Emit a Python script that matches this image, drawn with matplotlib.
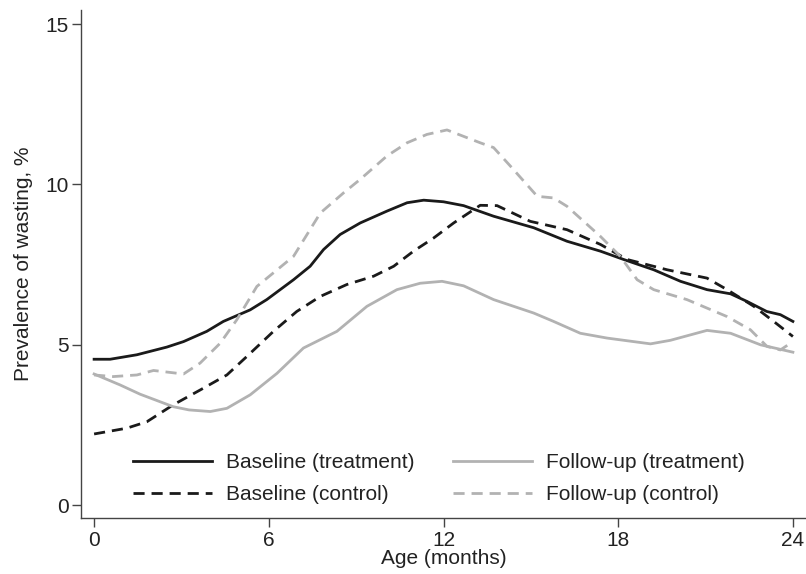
import matplotlib
matplotlib.use("Agg")
import matplotlib.pyplot as plt

plt.rcParams['font.family'] = ['Liberation Sans', 'DejaVu Sans']

# Baseline (treatment)
bt_age = [0, 0.55, 1.47, 2.5, 3.07, 3.87, 4.44, 5.36, 5.93, 6.85, 7.42, 7.88, 8.45, 9.14,
          10.06, 10.75, 11.32, 12.0, 12.69, 13.72, 15.1, 16.24, 17.39, 18.19, 19.22, 20.14,
          21.05, 21.86, 22.43, 23.1, 23.57, 24.0]
bt_val = [4.55, 4.55, 4.69, 4.93, 5.10, 5.42, 5.73, 6.09, 6.41, 7.03, 7.45, 7.97, 8.44, 8.80,
          9.17, 9.43, 9.51, 9.46, 9.34, 9.01, 8.65, 8.23, 7.92, 7.66, 7.34, 6.98,
          6.72, 6.59, 6.35, 6.04, 5.94, 5.73]

# Baseline (control)
bc_age = [0, 1.12, 1.81, 2.72, 3.64, 4.56, 5.25, 6.16, 6.96, 7.77, 8.68, 9.6, 10.29, 10.97,
          11.66, 12.35, 13.26, 13.84, 14.98, 16.24, 17.39, 18.31, 19.68, 21.05, 21.74, 22.66,
          23.34, 24.0]
bc_val = [2.22, 2.40, 2.60, 3.13, 3.59, 4.06, 4.64, 5.42, 6.04, 6.51, 6.88, 7.14, 7.45, 7.92,
          8.33, 8.80, 9.35, 9.34, 8.85, 8.59, 8.13, 7.66, 7.34, 7.08, 6.72, 6.20,
          5.73, 5.26]

# Follow-up (treatment)
ft_age = [0, 0.89, 1.58, 2.72, 3.26, 3.99, 4.56, 5.36, 6.28, 7.19, 8.34, 9.37, 10.4, 11.2,
          11.95, 12.69, 13.72, 15.1, 15.78, 16.7, 17.62, 19.11, 19.79, 21.05, 21.86, 22.89, 24.0]
ft_val = [4.09, 3.75, 3.46, 3.07, 2.97, 2.92, 3.02, 3.44, 4.11, 4.90, 5.42, 6.20, 6.72, 6.92,
          6.98, 6.84, 6.41, 5.99, 5.73, 5.36, 5.21, 5.03, 5.14, 5.45, 5.36, 5.00, 4.77]

# Follow-up (control)
fc_age = [0, 0.66, 1.47, 2.04, 3.07, 3.64, 4.33, 4.9, 5.59, 6.85, 7.77, 8.57, 9.14, 10.06,
          10.75, 11.43, 12.12, 13.26, 13.72, 14.3, 15.22, 15.78, 16.24, 17.39, 18.07, 18.65,
          19.22, 20.36, 21.74, 22.54, 23.11, 23.57, 24.0]
fc_val = [4.06, 4.01, 4.06, 4.20, 4.09, 4.43, 5.05, 5.78, 6.82, 7.76, 9.11, 9.74, 10.16, 10.89,
          11.30, 11.56, 11.70, 11.30, 11.15, 10.57, 9.63, 9.58, 9.32, 8.38, 7.76, 7.03,
          6.72, 6.41, 5.88, 5.47, 4.95, 4.84, 5.10]

x_ticks = [0, 6, 12, 18, 24]
y_ticks = [0, 5, 10, 15]

BLACK = '#1a1a1a'
GREY = '#b2b2b2'
FS = 15

fig = plt.figure(figsize=(8.06, 5.74), dpi=100)
ax = fig.add_axes([81 / 806, 1 - 518 / 574, 1 - 81 / 806, (518 - 10) / 574])

ax.plot(bt_age, bt_val, color=BLACK, lw=2, label='Baseline (treatment)')
ax.plot(bc_age, bc_val, color=BLACK, lw=2, dashes=(4, 2.5), label='Baseline (control)')
ax.plot(ft_age, ft_val, color=GREY, lw=2, label='Follow-up (treatment)')
ax.plot(fc_age, fc_val, color=GREY, lw=2, dashes=(4, 2.5), label='Follow-up (control)')

ax.set_xlim(-0.45, 24.45)
ax.set_ylim(-0.4, 15.44)
ax.set_xticks(x_ticks)
ax.set_yticks(y_ticks)
for s in ['top', 'right']:
    ax.spines[s].set_visible(False)
for s in ['left', 'bottom']:
    ax.spines[s].set_color('#444444')
    ax.spines[s].set_linewidth(1.0)
ax.tick_params(axis='both', direction='out', length=6.5, width=1.0, color='#444444',
               labelsize=FS, labelcolor='#222222')
ax.tick_params(axis='y', pad=2.5)
ax.tick_params(axis='x', pad=2.5)

ax.set_xlabel('Age (months)', fontsize=FS, color='#222222', labelpad=0)
ax.set_ylabel('Prevalence of wasting, %', fontsize=FS, color='#222222', labelpad=9)

ax.legend(loc='lower left', bbox_to_anchor=(133 / 806, 1 - 504 / 574),
          bbox_transform=fig.transFigure, ncol=2, frameon=False, borderpad=0,
          borderaxespad=0, fontsize=FS, handlelength=3.8, handletextpad=0.64,
          columnspacing=1.88, labelspacing=0.6, labelcolor='#222222')

fig.savefig('out.png', dpi=100)
